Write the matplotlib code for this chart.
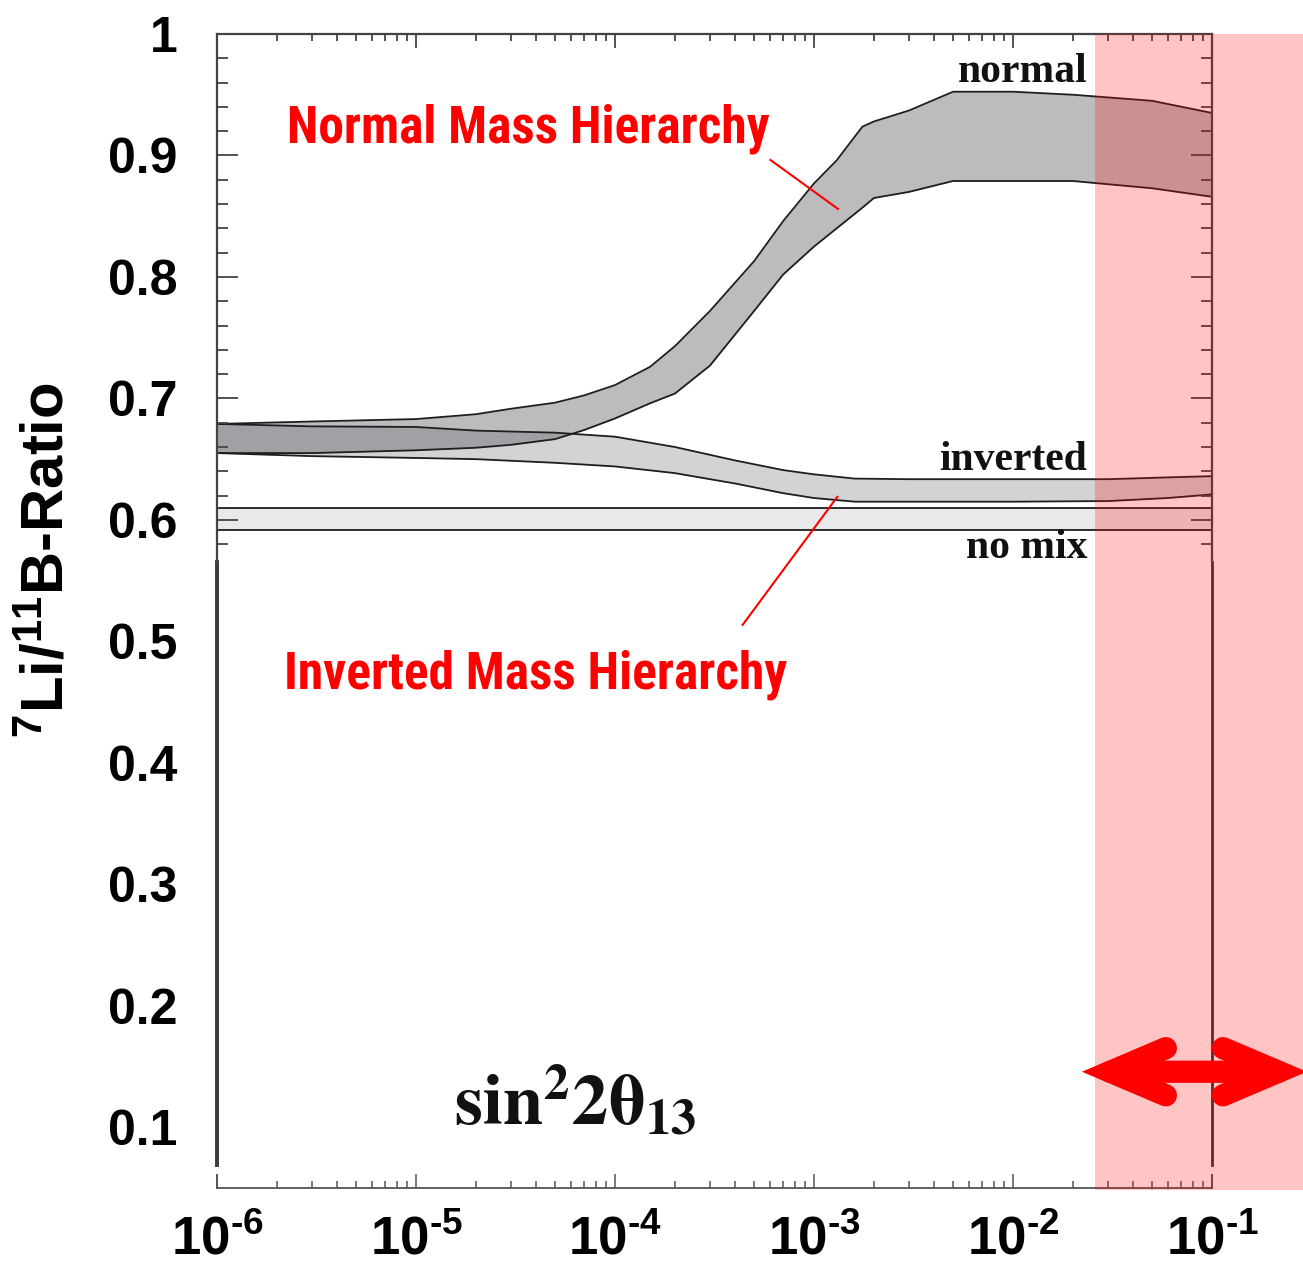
import matplotlib
matplotlib.use("Agg")
import matplotlib.pyplot as plt
from matplotlib import font_manager
from matplotlib.ticker import MultipleLocator, NullLocator, LogLocator

# ---------------- data ----------------
# normal mass hierarchy band
normal_x = [1e-6, 3e-6, 1e-5, 2e-5, 3e-5, 5e-5, 7e-5, 1e-4, 1.5e-4, 2e-4, 3e-4,
            5e-4, 7e-4, 1e-3, 1.3e-3, 1.75e-3, 2e-3, 3e-3, 5e-3, 1e-2, 2e-2, 5e-2, 1e-1]
normal_hi = [0.679, 0.681, 0.683, 0.687, 0.6915, 0.6965, 0.7025, 0.711, 0.726, 0.743, 0.772,
             0.813, 0.846, 0.877, 0.896, 0.9237, 0.928, 0.937, 0.9525, 0.9525, 0.950, 0.945, 0.935]
normal_lo = [0.655, 0.655, 0.6573, 0.6594, 0.6618, 0.6665, 0.674, 0.6835, 0.696, 0.704, 0.727,
             0.772, 0.802, 0.825, 0.840, 0.857, 0.865, 0.870, 0.879, 0.879, 0.879, 0.873, 0.866]

# inverted mass hierarchy band
inv_x = [1e-6, 3e-6, 1e-5, 2e-5, 5e-5, 1e-4, 2e-4, 4e-4, 7e-4, 1e-3, 1.6e-3,
         3e-3, 1e-2, 3e-2, 6e-2, 1e-1]
inv_hi = [0.679, 0.677, 0.6765, 0.6735, 0.6718, 0.6685, 0.660, 0.649, 0.641, 0.6375, 0.634,
          0.6335, 0.6335, 0.6335, 0.635, 0.636]
inv_lo = [0.655, 0.6525, 0.651, 0.650, 0.647, 0.644, 0.6385, 0.630, 0.622, 0.618, 0.615,
          0.615, 0.615, 0.6155, 0.618, 0.621]

# no-mixing band
nomix_x = [1e-6, 1e-1]
nomix_hi = [0.610, 0.610]
nomix_lo = [0.592, 0.592]

# measured region of sin^2 2theta13
region_lo = 0.0259
region_hi = 0.5
arrow_y = 0.1457
arrow_left = 0.0222
arrow_right = 0.30

xtick_vals = [1e-6, 1e-5, 1e-4, 1e-3, 1e-2, 1e-1]
xtick_labels = [r"$10^{\text{-}6}$", r"$10^{\text{-}5}$", r"$10^{\text{-}4}$",
                r"$10^{\text{-}3}$", r"$10^{\text{-}2}$", r"$10^{\text{-}1}$"]
ytick_vals = [0.1, 0.2, 0.3, 0.4, 0.5, 0.6, 0.7, 0.8, 0.9, 1.0]
ytick_labels = ["0.1", "0.2", "0.3", "0.4", "0.5", "0.6", "0.7", "0.8", "0.9", "1"]


def pick(fams):
    for f in fams:
        try:
            font_manager.findfont(font_manager.FontProperties(family=f),
                                  fallback_to_default=False)
            return f
        except Exception:
            pass
    return "DejaVu Sans"


SANS = pick(["Liberation Sans", "Arial"])
NARROW = pick(["Liberation Sans Narrow", "Arial Narrow", "Roboto Condensed"])
SERIF = pick(["Liberation Serif", "Times New Roman", "DejaVu Serif"])

plt.rcParams["mathtext.fontset"] = "custom"
plt.rcParams["mathtext.rm"] = SANS + ":bold"
plt.rcParams["mathtext.bf"] = SANS + ":bold"
plt.rcParams["mathtext.it"] = SANS + ":bold"

W, H = 1303, 1268
fig = plt.figure(figsize=(W / 100, H / 100), dpi=100)
fig.patch.set_facecolor("white")

xlo, xhi = 1e-6, 1e-1
ylo, yhi = 0.05, 1.0
ax = fig.add_axes([217 / W, 1 - 1188 / H, (1212 - 217) / W, (1188 - 34) / H])
ax.set_xscale("log")
ax.set_xlim(xlo, xhi)
ax.set_ylim(ylo, yhi)

edge = "#1e1e1e"
# bands
ax.fill_between(nomix_x, nomix_lo, nomix_hi, color="#e8e9eb", lw=0, zorder=2)
ax.fill_between(inv_x, inv_lo, inv_hi, color="#d2d3d5", lw=0, zorder=2.1)
ax.fill_between(normal_x, normal_lo, normal_hi, color=(0.31, 0.31, 0.35), alpha=0.38,
                lw=0, zorder=2.2)
for xs, ys in [(nomix_x, nomix_hi), (nomix_x, nomix_lo), (inv_x, inv_hi), (inv_x, inv_lo),
               (normal_x, normal_hi), (normal_x, normal_lo)]:
    ax.plot(xs, ys, color=edge, lw=1.3, zorder=3)

# band names
for txt, yv in [("normal", 0.9605), ("inverted", 0.6412), ("no mix", 0.5687)]:
    ax.text(0.0236, yv, txt, ha="right", va="baseline", family=SERIF,
            fontweight="bold", fontsize=30, color="#111111", zorder=4)

# spines and ticks of the main frame
ax.spines["top"].set_visible(False)
ax.spines["left"].set_bounds(0.069, 0.565)
ax.spines["left"].set_linewidth(2.8)
ax.spines["left"].set_color("#3a3a3a")
ax.spines["right"].set_bounds(0.069, 0.565)
ax.spines["right"].set_linewidth(2.0)
ax.spines["right"].set_color("#333333")
ax.spines["bottom"].set_linewidth(1.3)
ax.spines["bottom"].set_color("#555555")
for xa in (0, 1):
    ax.plot([xa, xa], [0, 0.011], transform=ax.transAxes, color="#555555", lw=1.3,
            clip_on=False, zorder=3)

ax.set_xticks(xtick_vals, labels=xtick_labels)
ax.xaxis.set_minor_locator(LogLocator(base=10, subs=range(2, 10), numticks=20))
ax.tick_params(axis="x", which="both", direction="in", top=False, labelsize=38, pad=20,
               color="#555555", width=1.1)
ax.tick_params(axis="x", which="major", length=10)
ax.tick_params(axis="x", which="minor", length=5)
ax.set_yticks(ytick_vals, labels=ytick_labels)
ax.yaxis.set_minor_locator(NullLocator())
ax.tick_params(axis="y", which="both", length=0, pad=28.5, labelsize=36)
for lab in ax.get_xticklabels() + ax.get_yticklabels():
    lab.set_fontfamily(SANS)
    lab.set_fontweight("bold")

# upper frame carrying the fine ticks
y_in0 = 0.565
f0 = (y_in0 - ylo) / (yhi - ylo)
axi = ax.inset_axes([0, f0, 1, 1 - f0])
axi.set_xscale("log")
axi.set_xlim(xlo, xhi)
axi.set_ylim(y_in0, yhi)
axi.set_facecolor("none")
axi.spines["bottom"].set_visible(False)
for s in ("left", "right", "top"):
    axi.spines[s].set_linewidth(1.6)
    axi.spines[s].set_color("#444444")
axi.yaxis.set_major_locator(MultipleLocator(0.1))
axi.yaxis.set_minor_locator(MultipleLocator(0.02))
axi.xaxis.set_minor_locator(LogLocator(base=10, subs=range(2, 10), numticks=20))
axi.tick_params(axis="y", which="both", direction="in", left=True, right=True,
                labelleft=False, labelright=False, color="#444444", width=1.3)
axi.tick_params(axis="y", which="major", length=15)
axi.tick_params(axis="y", which="minor", length=8)
axi.tick_params(axis="x", which="both", direction="in", top=True, bottom=False,
                labelbottom=False, labeltop=False, color="#444444", width=1.3)
axi.tick_params(axis="x", which="major", length=10)
axi.tick_params(axis="x", which="minor", length=5)

# shaded region and arrow
ax.axvspan(region_lo, region_hi, ymin=-0.002, ymax=1.0, color="red", alpha=0.23, lw=0,
           zorder=6, clip_on=False)
ax.annotate("", xy=(arrow_left, arrow_y), xytext=(arrow_right, arrow_y),
            arrowprops=dict(arrowstyle="<->,head_length=4.0,head_width=1.7", color="red",
                            lw=16, shrinkA=0, shrinkB=0, capstyle="round",
                            joinstyle="miter"),
            annotation_clip=False, zorder=7)

# hierarchy annotations
ax.plot([6.04e-4, 1.32e-3], [0.8963, 0.856], color="red", lw=1.5, zorder=7)
ax.plot([4.38e-4, 1.31e-3], [0.5136, 0.619], color="red", lw=1.5, zorder=7)
fig.text(287 / W, 1 - 143 / H, "Normal Mass Hierarchy", color="red", family=NARROW,
         fontweight="bold", fontsize=37, ha="left", va="baseline")
fig.text(284 / W, 1 - 688 / H, "Inverted Mass Hierarchy", color="red", family=NARROW,
         fontweight="bold", fontsize=37, ha="left", va="baseline")

# axis titles
fig.text(454 / W, 1 - 1125 / H, r"$\mathbf{sin}^{\mathbf{2}}\mathbf{2\theta}_{\mathbf{13}}$",
         fontsize=52, math_fontfamily="stix", ha="left", va="baseline", color="#111111")
fig.text(48 / W, 1 - 560 / H, r"$^{7}$Li/$^{11}$B-Ratio", rotation=90, family=SANS,
         fontweight="bold", fontsize=43, ha="center", va="center")

fig.savefig("out.png", dpi=100, facecolor="white")
